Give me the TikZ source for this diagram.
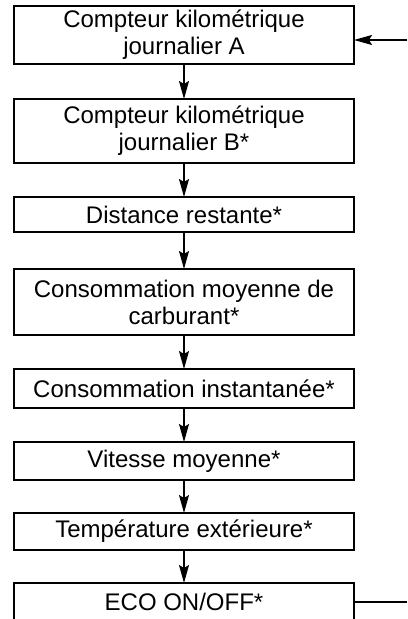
\documentclass[tikz,border=0pt]{standalone}
\usepackage{fontspec}
\setmainfont{Liberation Sans}
\usetikzlibrary{arrows.meta,positioning}

\begin{document}
\begin{tikzpicture}[every node/.style={font=\fontsize{12pt}{13.5pt}\selectfont},
                    menubox/.style={rectangle,draw,line width=0.75pt,
                      minimum width=170pt,inner sep=0pt,outer sep=0pt,
                      align=center},
                    flow/.style={-{Stealth[length=9pt,width=5pt,inset=1.5pt]},
                      line width=0.65pt}]
        \useasboundingbox (0,0) rectangle (203.5pt,-309.5pt);
        \node[menubox,minimum height=29pt,anchor=north] (tripA) at (92pt,-3pt)
          {Compteur kilométrique\\journalier A};
        \node[menubox,minimum height=32pt,below=17.5pt of tripA] (tripB)
          {Compteur kilométrique\\journalier B*};
        \node[menubox,minimum height=17.5pt,below=17pt of tripB] (range)
          {Distance restante*};
        \node[menubox,minimum height=33pt,below=18.5pt of range] (avgfuel)
          {Consommation moyenne de\\carburant*};
        \node[menubox,minimum height=19.5pt,below=17pt of avgfuel] (instfuel)
          {Consommation instantanée*};
        \node[menubox,minimum height=19pt,below=17pt of instfuel] (avgspeed)
          {Vitesse moyenne*};
        \node[menubox,minimum height=18.5pt,below=16.5pt of avgspeed] (outtemp)
          {Température extérieure*};
        \node[menubox,minimum height=19pt,below=16.5pt of outtemp] (eco)
          {ECO ON/OFF*};
        \coordinate (loopin) at (203.5pt,-20pt);
        \coordinate (loopout) at (203.5pt,-301pt);
        \draw[flow] (tripA) -- (tripB);
        \draw[flow] (tripB) -- (range);
        \draw[flow] (range) -- (avgfuel);
        \draw[flow] (avgfuel) -- (instfuel);
        \draw[flow] (instfuel) -- (avgspeed);
        \draw[flow] (avgspeed) -- (outtemp);
        \draw[flow] (outtemp) -- (eco);
        \draw[flow] (loopin) -- (tripA.east |- loopin);
        \draw[line width=0.65pt] (eco.east) -- (eco.east -| loopout);
      \end{tikzpicture}
\end{document}
